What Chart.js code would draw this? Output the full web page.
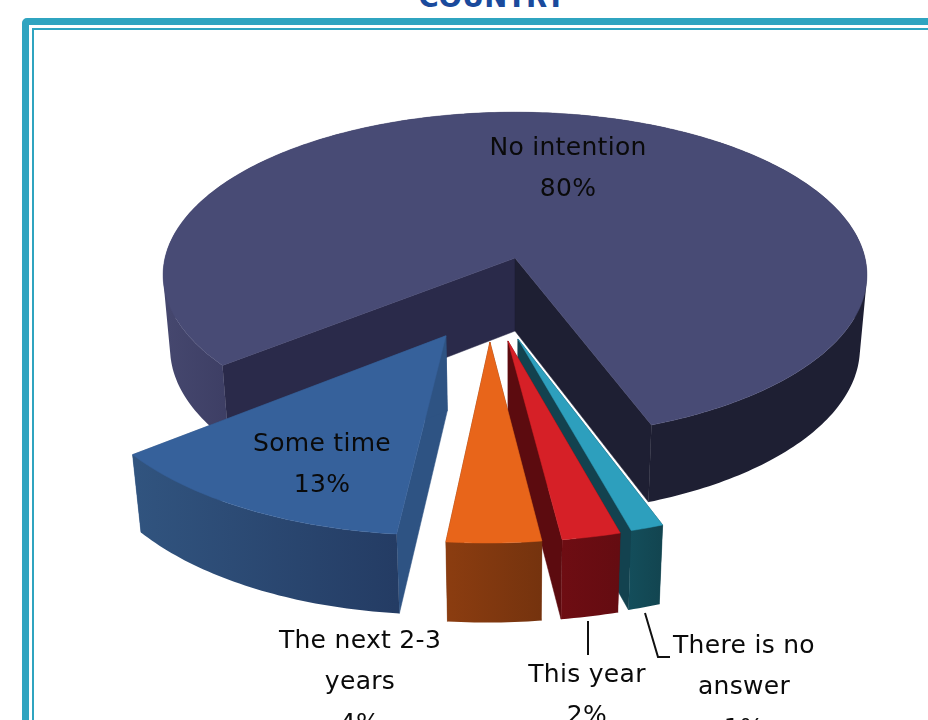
<!DOCTYPE html>
<html lang="en">
<head>
    <meta charset="UTF-8">
    <title>Intention by country</title>
    <script src="https://cdn.jsdelivr.net/npm/chart.js"></script>
    <style>
        html, body {
            margin: 0;
            width: 928px;
            height: 720px;
            overflow: hidden;
            background: #ffffff;
        }
        .frame {
            position: absolute;
            width: 1000px;
            height: 1000px;
            box-sizing: border-box;
            border-style: solid;
            border-color: #2fa4c0;
        }
        #frame-outer { left: 22px; top: 18px; border-width: 7px; border-radius: 5px; }
        #frame-inner { left: 32px; top: 28px; border-width: 2px; }
        #title {
            position: absolute;
            left: 392px;
            width: 200px;
            top: -19px;
            text-align: center;
            font: bold 27.5px "DejaVu Sans", sans-serif;
            color: #1a4a9c;
        }
        canvas { position: absolute; left: 0; top: 0; }
    </style>
</head>
<body>
    <div id="title">COUNTRY</div>
    <div class="frame" id="frame-outer"></div>
    <div class="frame" id="frame-inner"></div>
    <canvas id="pieChart" width="928" height="720"></canvas>

    <script>
        // Data, in drawing order (clockwise from the left edge of the big slice)
        const categories = ['No intention', 'There is no answer', 'This year', 'The next 2-3 years', 'Some time'];
        const values = [80, 1.3, 2.3, 3.7, 12.7];
        const labelLines = [['No intention'], ['There is no', 'answer'], ['This year'], ['The next 2-3', 'years'], ['Some time']];

        // Slice colours
        const topColors = ['#484b75', '#2d9fbd', '#d62027', '#e8651a', '#36619b'];
        const cutColors = [['#1e1f33', '#2a2a4a'], ['#13424f', '#13424f'], ['#5c0b0f', '#5c0b0f'], ['#7a340e', '#7a340e'], ['#2e5383', '#2e5383']];
        const wallStops = [
            [[160, '#46486f'], [230, '#3d3e64'], [640, '#1e1f33'], [870, '#1e1f33']],
            [[620, '#14505e'], [665, '#12444f']],
            [[555, '#6f0d13'], [622, '#640c11']],
            [[443, '#8c3d10'], [541, '#75330e']],
            [[134, '#31547f'], [396, '#243c64']]
        ];

        // How far each slice is pulled out of the pie (pie radius = 1)
        const explodeX = [0, 0.008, -0.019, -0.068, -0.188];
        const explodeY = [0, 0.478, 0.489, 0.495, 0.46];

        // Label centres
        const labelPos = [[568, 148], [744, 646], [587, 675], [360, 641], [322, 444]];
        const lineGap = 41.5;

        // Perspective used for the 3D look
        const persp = { dx: 51, dy: -102, squash: 161, height: 74.5, p: 0.104, q: 0.02 };

        function project(el, X, Y, Z) {
            const d = 1 - persp.p * Y + persp.q * Z;
            return {
                x: el.x + persp.dx + el.outerRadius * X / d,
                y: el.y + persp.dy + (persp.squash * Y + persp.height * Z) / d
            };
        }

        function fillPoly(ctx, pts, fill) {
            ctx.beginPath();
            pts.forEach((pt, i) => i ? ctx.lineTo(pt.x, pt.y) : ctx.moveTo(pt.x, pt.y));
            ctx.closePath();
            ctx.fillStyle = fill;
            ctx.fill();
            ctx.strokeStyle = fill;
            ctx.lineWidth = 0.5;
            ctx.stroke();
        }

        // all wall quads go in one path, wound the same way, so there are no seams or holes
        function fillWall(ctx, topRim, bottomRim, fill) {
            ctx.beginPath();
            for (let k = 0; k < topRim.length - 1; k++) {
                const a = topRim[k], b = topRim[k + 1], c = bottomRim[k + 1], d = bottomRim[k];
                const area = (b.x - a.x) * (d.y - a.y) - (d.x - a.x) * (b.y - a.y);
                const quad = area >= 0 ? [a, b, c, d] : [d, c, b, a];
                quad.forEach((pt, j) => j ? ctx.lineTo(pt.x, pt.y) : ctx.moveTo(pt.x, pt.y));
                ctx.closePath();
            }
            ctx.fillStyle = fill;
            ctx.fill();
        }

        const pie3d = {
            id: 'pie3d',
            beforeDatasetsDraw(chart) {
                const ctx = chart.ctx;
                chart.getDatasetMeta(0).data.forEach((el, i) => {
                    const ox = explodeX[i], oy = explodeY[i];
                    const steps = Math.max(6, Math.ceil((el.endAngle - el.startAngle) * 60));
                    const topRim = [], bottomRim = [];
                    for (let k = 0; k <= steps; k++) {
                        const a = el.startAngle + (el.endAngle - el.startAngle) * k / steps;
                        topRim.push(project(el, Math.cos(a) + ox, Math.sin(a) + oy, 0));
                        bottomRim.push(project(el, Math.cos(a) + ox, Math.sin(a) + oy, 1));
                    }
                    const apexTop = project(el, ox, oy, 0);
                    const apexBottom = project(el, ox, oy, 1);

                    // cut faces
                    fillPoly(ctx, [apexTop, topRim[0], bottomRim[0], apexBottom], cutColors[i][1]);
                    fillPoly(ctx, [apexTop, topRim[steps], bottomRim[steps], apexBottom], cutColors[i][0]);

                    // outer wall, shaded from left to right
                    const from = wallStops[i][0][0], to = wallStops[i][wallStops[i].length - 1][0];
                    const grad = ctx.createLinearGradient(from, 0, to, 0);
                    wallStops[i].forEach(s => grad.addColorStop((s[0] - from) / (to - from), s[1]));
                    fillWall(ctx, topRim, bottomRim, grad);

                    // top face
                    fillPoly(ctx, [apexTop].concat(topRim), topColors[i]);
                });
                return false;
            },
            afterDraw(chart) {
                const ctx = chart.ctx;
                const total = values.reduce((a, b) => a + b, 0);

                ctx.strokeStyle = '#111111';
                ctx.lineWidth = 2;
                ctx.beginPath();
                ctx.moveTo(588, 621);
                ctx.lineTo(588, 655);
                ctx.moveTo(645, 613);
                ctx.lineTo(658, 657);
                ctx.lineTo(670, 657);
                ctx.stroke();

                ctx.font = '25px "DejaVu Sans", sans-serif';
                ctx.letterSpacing = '0.3px';
                ctx.fillStyle = '#0a0a0a';
                ctx.textAlign = 'center';
                ctx.textBaseline = 'middle';
                categories.forEach((name, i) => {
                    const lines = labelLines[i].concat(Math.round(values[i] / total * 100) + '%');
                    lines.forEach((text, j) => {
                        ctx.fillText(text, labelPos[i][0], labelPos[i][1] + j * lineGap);
                    });
                });
            }
        };

        new Chart(document.getElementById('pieChart').getContext('2d'), {
            type: 'pie',
            data: {
                labels: categories,
                datasets: [{ data: values, backgroundColor: topColors, radius: 350 }]
            },
            options: {
                responsive: false,
                animation: false,
                devicePixelRatio: 1,
                rotation: 231.4,
                plugins: { legend: { display: false }, tooltip: { enabled: false } }
            },
            plugins: [pie3d]
        });
    </script>
</body>
</html>
